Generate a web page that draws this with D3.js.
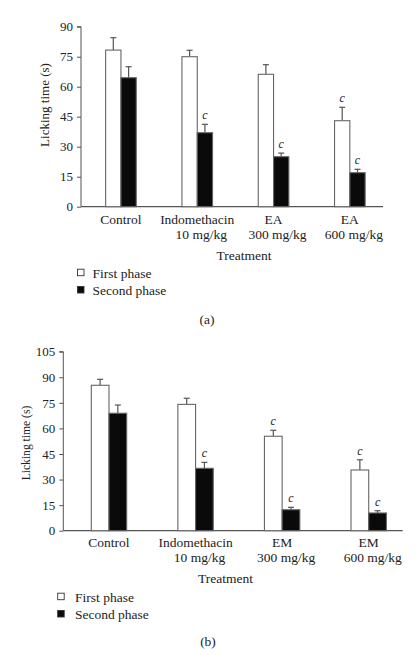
<!DOCTYPE html>
<html><head><meta charset="utf-8">
<script src="https://cdn.jsdelivr.net/npm/d3@7"></script>
<style>body{margin:0;background:#fff}svg{display:block}text{font-family:"Liberation Serif","Times New Roman",serif;fill:#222}</style>
</head><body>
<script>
// ---- data ----
const categoriesA = [["Control"], ["Indomethacin", "10 mg/kg"], ["EA", "300 mg/kg"], ["EA", "600 mg/kg"]];
const firstA = [78.3, 75, 66.2, 43];
const firstErrA = [6.2, 3.2, 4.8, 6.7];
const secondA = [64.5, 37, 25, 17];
const secondErrA = [5.5, 4.2, 1.8, 1.7];
const firstSigA = ["", "", "", "c"];
const secondSigA = ["", "c", "c", "c"];
const ticksA = [0, 15, 30, 45, 60, 75, 90];

const categoriesB = [["Control"], ["Indomethacin", "10 mg/kg"], ["EM", "300 mg/kg"], ["EM", "600 mg/kg"]];
const firstB = [85.3, 74.1, 55.4, 35.6];
const firstErrB = [3.5, 3.6, 3.5, 6];
const secondB = [68.9, 36.6, 12.3, 10.4];
const secondErrB = [4.8, 3.5, 1.4, 1.3];
const firstSigB = ["", "", "c", "c"];
const secondSigB = ["", "c", "c", "c"];
const ticksB = [0, 15, 30, 45, 60, 75, 90, 105];

const seriesNames = ["First phase", "Second phase"];
const yTitle = "Licking time (s)";
const xTitle = "Treatment";

const svg = d3.select("body").append("svg").attr("width", 419).attr("height", 661);

function panel(o) {
  const g = svg.append("g");
  const y = d3.scaleLinear().domain([0, o.ticks[o.ticks.length - 1]]).range([o.y0, o.y1]);
  const x = d3.scaleBand().domain(o.cats.map((d, i) => i)).range([o.bx0, o.bx1]).padding(0);
  const axisColor = "#555";
  // y axis
  const ya = g.append("g").attr("transform", `translate(${o.ax},0)`)
    .call(d3.axisLeft(y).tickValues(o.ticks).tickSize(4).tickPadding(4));
  ya.select(".domain").attr("stroke", axisColor).attr("d", `M-4,${y(o.ticks[o.ticks.length-1])}H0V${o.y0}`);
  ya.selectAll(".tick line").attr("stroke", axisColor);
  ya.selectAll(".tick text").attr("font-family", "Liberation Serif").attr("font-size", o.tickFs).attr("fill", "#222");
  // x baseline
  g.append("line").attr("x1", o.ax).attr("x2", o.axEnd).attr("y1", o.y0).attr("y2", o.y0)
    .attr("stroke", axisColor).attr("stroke-width", 1.2);
  const bw = o.bw;
  const series = [
    {vals: o.first, err: o.firstErr, sig: o.firstSig, fill: "#fff", off: -bw},
    {vals: o.second, err: o.secondErr, sig: o.secondSig, fill: "#0a0a0a", off: 0}
  ];
  series.forEach(s => {
    s.vals.forEach((v, i) => {
      const cx = x(i) + x.bandwidth() / 2;
      const x0 = cx + s.off;
      g.append("line").attr("x1", x0 + bw / 2).attr("x2", x0 + bw / 2)
        .attr("y1", y(v)).attr("y2", y(v + s.err[i])).attr("stroke", "#555").attr("stroke-width", 1.2);
      g.append("line").attr("x1", x0 + bw / 2 - 3).attr("x2", x0 + bw / 2 + 3)
        .attr("y1", y(v + s.err[i])).attr("y2", y(v + s.err[i])).attr("stroke", "#555").attr("stroke-width", 1.2);
      g.append("rect").attr("x", x0).attr("y", y(v)).attr("width", bw).attr("height", o.y0 - y(v))
        .attr("fill", s.fill).attr("stroke", "#666").attr("stroke-width", 1.1);
      if (s.sig[i]) {
        g.append("text").attr("x", x0 + bw / 2).attr("y", y(v + s.err[i]) - 5)
          .attr("text-anchor", "middle").attr("font-style", "italic").attr("font-size", 12).text(s.sig[i]);
      }
    });
  });
  // category labels
  o.cats.forEach((lines, i) => {
    const cx = x(i) + x.bandwidth() / 2;
    lines.forEach((t, j) => {
      g.append("text").attr("x", cx + (j === 1 ? 4 : 0)).attr("y", o.catY + j * o.catDy)
        .attr("text-anchor", "middle").attr("font-size", 13.5).text(t);
    });
  });
  g.append("text").attr("x", o.xtX).attr("y", o.xtY).attr("text-anchor", "middle").attr("font-size", 13.5).text(xTitle);
  g.append("text").attr("transform", `translate(${o.ytX},${o.ytY}) rotate(-90)`)
    .attr("text-anchor", "middle").attr("font-size", o.ytFs).text(yTitle);
  // legend
  seriesNames.forEach((n, i) => {
    const ly = o.legY + i * o.legDy;
    g.append("rect").attr("x", o.legX).attr("y", ly - 8.5).attr("width", 6.5).attr("height", 6.5)
      .attr("fill", i ? "#0a0a0a" : "#fff").attr("stroke", "#333").attr("stroke-width", 0.9);
    g.append("text").attr("x", o.legTX).attr("y", ly).attr("font-size", 13.5).text(n);
  });
  g.append("text").attr("x", o.capX).attr("y", o.capY).attr("text-anchor", "middle").attr("font-size", 13.5).text(o.cap);
}

panel({cats: categoriesA, first: firstA, firstErr: firstErrA, second: secondA, secondErr: secondErrA,
  firstSig: firstSigA, secondSig: secondSigA, ticks: ticksA,
  y0: 206.7, y1: 26.7, ax: 81, axEnd: 383, bx0: 82.8, bx1: 388, bw: 15.3, tickFs: 13,
  catY: 224, catDy: 15, xtX: 244, xtY: 259.5, ytX: 48.5, ytY: 105, ytFs: 13,
  legX: 77.5, legTX: 92.5, legY: 277.7, legDy: 17.3, capX: 207, capY: 324, cap: "(a)"});

panel({cats: categoriesB, first: firstB, firstErr: firstErrB, second: secondB, secondErr: secondErrB,
  firstSig: firstSigB, secondSig: secondSigB, ticks: ticksB,
  y0: 530.7, y1: 351.7, ax: 63.3, axEnd: 402.7, bx0: 65.7, bx1: 412, bw: 17.7, tickFs: 13,
  catY: 546.7, catDy: 15.6, xtX: 225.5, xtY: 583.3, ytX: 30, ytY: 443, ytFs: 11.6,
  legX: 57.7, legTX: 75, legY: 601.7, legDy: 17.3, capX: 208, capY: 646, cap: "(b)"});
</script>
</body></html>
